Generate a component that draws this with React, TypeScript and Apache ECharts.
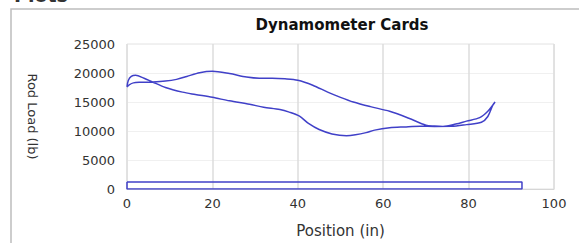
import React, { useEffect, useRef } from "react";
import * as echarts from "echarts";

const chartTitle = "Dynamometer Cards";
const headingText = "Plots";
const xAxisName = "Position (in)";
const yAxisName = "Rod Load (lb)";

// surface card loop (position in, load lb)
const cardPosition = [
  0, 0.6, 1.5, 3, 6, 9, 11.6, 14, 17, 20, 24, 28, 31, 34, 37, 40, 43.5, 47, 50, 53, 57, 61.5, 66, 70, 72, 74, 77, 79.5, 82.6, 84.5, 86.2,
  85.7, 84.5, 83, 79.5, 76, 72, 68.6, 65, 61.5, 58, 56, 53.5, 51.4, 48, 45, 42.5, 40.4, 38, 35.8, 32, 28.7, 24, 20, 16, 13, 9, 6, 4, 2, 1, 0.3, 0,
];
const cardLoad = [
  17600, 18000, 18300, 18400, 18450, 18600, 18900, 19400, 20050, 20300, 19900, 19300, 19100, 19100, 19000, 18750, 17900, 16700, 15800, 15000, 14200, 13400, 12200, 11000, 10850, 10780, 11200, 11700, 12300, 13400, 15000,
  14500, 12500, 11500, 11100, 10800, 10780, 10820, 10700, 10550, 10150, 9720, 9350, 9200, 9500, 10250, 11300, 12550, 13250, 13700, 14100, 14600, 15200, 15800, 16300, 16700, 17500, 18450, 19100, 19600, 19400, 18700, 17600,
];

// thin rectangle card near zero
const rectPosition = [0, 92.5, 92.5, 0, 0];
const rectLoad = [1200, 1200, 0, 0, 1200];

const xTicks = { min: 0, max: 100, interval: 20 };
const yTicks = { min: 0, max: 25000, interval: 5000 };

const FONT = "DejaVu Sans, Verdana, sans-serif";
const LINE_COLOR = "#4040c8";

export default function App() {
  const ref = useRef<HTMLDivElement>(null);
  useEffect(() => {
    if (!ref.current) return;
    const chart = echarts.init(ref.current, undefined, { renderer: "svg" });
    const cardData = cardPosition.map((x, i) => [x, cardLoad[i]]);
    const rectData = rectPosition.map((x, i) => [x, rectLoad[i]]);
    chart.setOption({
      animation: false,
      backgroundColor: "#ffffff",
      textStyle: { fontFamily: FONT },
      grid: {
        left: 127,
        right: 25,
        top: 44,
        bottom: 53,
        show: true,
        borderColor: "#e2e2e2",
        borderWidth: 1,
      },
      graphic: [
        {
          type: "rect",
          shape: { x: 11, y: 9, width: 640, height: 300 },
          style: { fill: "none", stroke: "#bdbdbd", lineWidth: 1.5 },
          silent: true,
        },
        {
          type: "text",
          x: 14,
          y: -15,
          style: { text: headingText, font: "bold 19px " + FONT, fill: "#333" },
          silent: true,
        },
        {
          type: "text",
          x: 342,
          y: 25,
          style: {
            text: chartTitle,
            font: "bold 15px " + FONT,
            fill: "#111",
            textAlign: "center",
            textVerticalAlign: "middle",
          },
          silent: true,
        },
      ],
      xAxis: {
        type: "value",
        min: xTicks.min,
        max: xTicks.max,
        interval: xTicks.interval,
        name: xAxisName,
        nameLocation: "middle",
        nameGap: 34,
        nameTextStyle: { fontSize: 15, color: "#333", fontFamily: FONT },
        axisLine: { show: true, lineStyle: { color: "#d6d6d6" } },
        axisTick: { show: false },
        axisLabel: { fontSize: 13, color: "#333", margin: 8, fontFamily: FONT },
        splitLine: { show: true, lineStyle: { color: "#dcdcdc", width: 1.5 } },
      },
      yAxis: {
        type: "value",
        min: yTicks.min,
        max: yTicks.max,
        interval: yTicks.interval,
        name: yAxisName,
        nameLocation: "middle",
        nameRotate: -90,
        nameGap: 88,
        nameTextStyle: { fontSize: 13, color: "#333", fontFamily: FONT },
        axisLine: { show: false },
        axisTick: { show: false },
        axisLabel: {
          fontSize: 13,
          color: "#333",
          margin: 12,
          fontFamily: FONT,
          formatter: (v: number) => String(v),
        },
        splitLine: { show: true, lineStyle: { color: "#f0f0f0" } },
      },
      series: [
        {
          type: "line",
          data: rectData,
          showSymbol: false,
          lineStyle: { color: LINE_COLOR, width: 1.5 },
          itemStyle: { color: LINE_COLOR },
        },
        {
          type: "line",
          data: cardData,
          smooth: 0.3,
          showSymbol: false,
          lineStyle: { color: LINE_COLOR, width: 1.5 },
          itemStyle: { color: LINE_COLOR },
        },
      ],
    });
    return () => chart.dispose();
  }, []);
  return (
    <div
      ref={ref}
      style={{ position: "fixed", left: 0, top: 0, width: 579, height: 243 }}
    />
  );
}
